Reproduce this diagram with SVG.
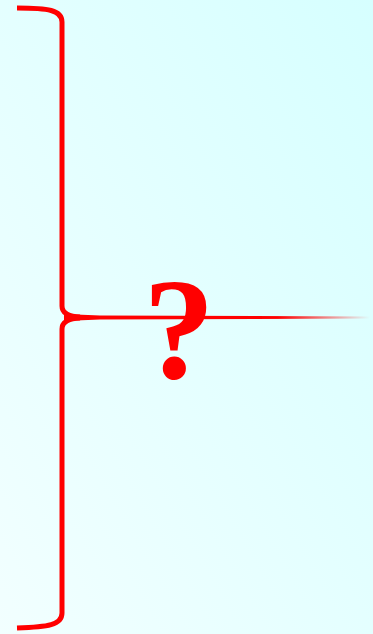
<svg xmlns="http://www.w3.org/2000/svg" width="373" height="634" viewBox="0 0 373 634">
<defs>
<linearGradient id="bg" x1="1" y1="0" x2="0" y2="1">
<stop offset="0" stop-color="#d6ffff"/>
<stop offset="1" stop-color="#f2ffff"/>
</linearGradient>
<linearGradient id="fade" gradientUnits="userSpaceOnUse" x1="62" y1="0" x2="370" y2="0">
<stop offset="0" stop-color="#ff0000"/>
<stop offset="0.7" stop-color="#ff0000"/>
<stop offset="1" stop-color="#ff0000" stop-opacity="0"/>
</linearGradient>
<style>
.br{fill:none;stroke:#ff0000;stroke-width:5;stroke-linecap:butt}
.q{font-family:"Liberation Serif","DejaVu Serif",serif;font-weight:bold;font-size:143px;fill:#ff0000}
</style>
</defs>
<rect width="373" height="634" fill="url(#bg)"/>
<g id="brace">
<path class="br" d="M17,8 C48,8 62,10 62,22 L62,306 Q62,316 80,317"/>
<path class="br" d="M80,318 Q62,319 62,329 L62,613 C62,625 48,627 17,628"/>
</g>
<g id="connectors">
<polygon points="64,314 100,315.5 370,316.5 370,318.5 100,319.5 64,321" fill="url(#fade)"/>
</g>
<g id="question">
<text class="q" x="179" y="378" text-anchor="middle">?</text>
</g>
</svg>
